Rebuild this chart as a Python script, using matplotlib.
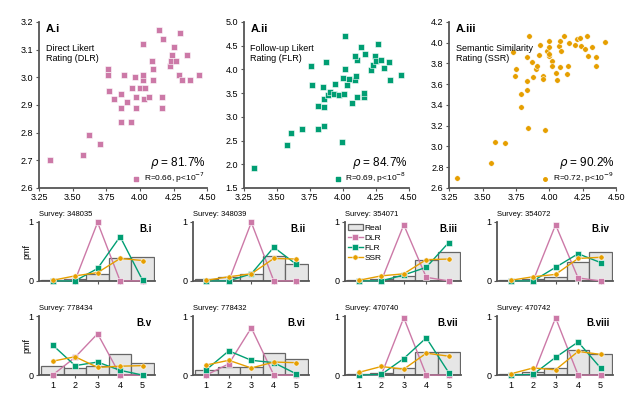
import numpy as np
import matplotlib.pyplot as plt

plt.rcParams['font.family'] = ['Liberation Sans', 'DejaVu Sans']
plt.rcParams['font.size'] = 6.5

pink = '#CC79A7'
green = '#009E73'
orange = '#E69F00'

#%% Scatter data (real mean vs predicted mean)

dlr_x = [3.33, 3.58, 3.62, 3.70, 3.76, 3.76, 3.77, 3.81, 3.86, 3.86, 3.86, 3.88, 3.90, 3.93,
         3.94, 3.96, 3.97, 3.97, 4.00, 4.02, 4.02, 4.02, 4.03, 4.04, 4.07, 4.09, 4.10, 4.10,
         4.14, 4.17, 4.16, 4.16, 4.22, 4.23, 4.24, 4.25, 4.27, 4.29, 4.30, 4.31, 4.35, 4.37, 4.44]
dlr_y = [2.70, 2.72, 2.79, 2.76, 3.03, 3.01, 2.95, 2.92, 2.94, 2.89, 2.84, 3.01, 2.91, 2.84,
         2.96, 3.00, 2.89, 2.93, 2.96, 3.12, 2.99, 3.01, 2.92, 2.96, 2.93, 3.06, 3.03, 2.99,
         3.17, 3.14, 2.93, 2.89, 3.04, 3.06, 3.08, 3.11, 3.06, 3.01, 3.16, 2.99, 3.08, 2.99, 3.01]

flr_x = [3.33, 3.58, 3.61, 3.69, 3.76, 3.77, 3.81, 3.81, 3.85, 3.86, 3.86, 3.86, 3.87, 3.89,
         3.90, 3.93, 3.94, 3.97, 3.99, 4.00, 4.02, 4.01, 4.02, 4.03, 4.05, 4.07, 4.09, 4.10,
         4.11, 4.11, 4.14, 4.16, 4.16, 4.17, 4.21, 4.23, 4.24, 4.25, 4.27, 4.29, 4.31, 4.35,
         4.36, 4.44, 4.09]
flr_y = [1.92, 2.40, 2.66, 2.75, 4.08, 3.68, 2.74, 3.23, 3.63, 3.37, 3.20, 2.80, 4.16, 3.47,
         3.52, 3.48, 3.70, 3.45, 2.47, 3.81, 4.70, 3.49, 4.01, 3.67, 3.79, 3.30, 3.78, 3.85,
         3.42, 4.19, 4.48, 3.42, 3.51, 4.32, 3.98, 4.09, 4.28, 4.18, 4.54, 4.19, 4.02, 4.16,
         3.77, 3.88, 4.28]

ssr_x = [3.31, 3.56, 3.59, 3.67, 3.73, 3.74, 3.75, 3.79, 3.79, 3.83, 3.83, 3.83, 3.84, 3.85,
         3.87, 3.88, 3.90, 3.91, 3.92, 3.93, 3.95, 3.95, 3.97, 3.98, 4.00, 4.00, 4.00, 4.00,
         4.02, 4.02, 4.05, 4.06, 4.07, 4.08, 4.08, 4.09, 4.11, 4.13, 4.14, 4.15, 4.19, 4.21,
         4.23, 4.24, 4.27, 4.28, 4.29, 4.32, 4.35, 4.35, 4.42]
ssr_y = [2.70, 2.84, 3.04, 3.03, 3.91, 3.68, 3.75, 3.38, 3.51, 3.54, 3.63, 3.86, 3.18, 4.06,
         3.81, 3.67, 3.75, 3.78, 3.88, 3.98, 3.68, 3.65, 3.16, 3.92, 4.02, 3.96, 3.87, 3.89,
         3.82, 3.78, 3.71, 3.64, 3.97, 4.02, 3.77, 3.92, 4.06, 3.70, 3.78, 4.00, 3.98, 4.04,
         4.05, 3.97, 3.94, 4.06, 3.87, 3.96, 3.86, 3.78, 4.01]

#%% Distribution data (pmf over ratings 1-5)

ratings = [1, 2, 3, 4, 5]
surveys = ['348035', '348039', '354071', '354072', '778434', '778432', '470740', '470742']
panel_names = ['B.i', 'B.ii', 'B.iii', 'B.iv', 'B.v', 'B.vi', 'B.vii', 'B.viii']

real_pmf = [[0.02, 0.04, 0.11, 0.39, 0.41],
            [0.03, 0.06, 0.12, 0.43, 0.29],
            [0.02, 0.03, 0.09, 0.35, 0.49],
            [0.02, 0.04, 0.07, 0.32, 0.49],
            [0.15, 0.12, 0.16, 0.35, 0.20],
            [0.08, 0.13, 0.14, 0.37, 0.27],
            [0.02, 0.04, 0.12, 0.39, 0.39],
            [0.02, 0.05, 0.12, 0.42, 0.36]]
dlr_pmf = [[0.00, 0.01, 0.99, 0.00, 0.00],
           [0.00, 0.00, 0.99, 0.00, 0.00],
           [0.00, 0.00, 0.95, 0.06, 0.00],
           [0.00, 0.00, 0.95, 0.05, 0.00],
           [0.00, 0.30, 0.70, 0.00, 0.00],
           [0.00, 0.19, 0.80, 0.00, 0.00],
           [0.00, 0.00, 0.97, 0.00, 0.00],
           [0.00, 0.00, 0.97, 0.00, 0.00]]
flr_pmf = [[0.00, 0.00, 0.21, 0.75, 0.01],
           [0.00, 0.00, 0.12, 0.57, 0.28],
           [0.00, 0.00, 0.10, 0.23, 0.65],
           [0.00, 0.00, 0.23, 0.46, 0.31],
           [0.51, 0.16, 0.22, 0.08, 0.00],
           [0.09, 0.41, 0.25, 0.21, 0.02],
           [0.00, 0.01, 0.28, 0.63, 0.04],
           [0.00, 0.01, 0.30, 0.56, 0.12]]
ssr_pmf = [[0.01, 0.085, 0.14, 0.38, 0.345],
           [0.01, 0.07, 0.12, 0.38, 0.37],
           [0.01, 0.085, 0.12, 0.36, 0.37],
           [0.01, 0.07, 0.11, 0.38, 0.40],
           [0.235, 0.31, 0.13, 0.15, 0.16],
           [0.17, 0.25, 0.12, 0.22, 0.21],
           [0.045, 0.145, 0.10, 0.37, 0.32],
           [0.02, 0.12, 0.09, 0.40, 0.35]]

#%% Figure

fig = plt.figure(figsize=(6.3, 3.99), dpi=100)
spine_col = '#555555'


def style_axes(ax):
    for s in ['top', 'right']:
        ax.spines[s].set_visible(False)
    for s in ['left', 'bottom']:
        ax.spines[s].set_color(spine_col)
        ax.spines[s].set_linewidth(1.3)
    ax.tick_params(length=2.5, width=0.8, color=spine_col, pad=1.5, labelsize=6.5)


top_specs = [
    ([0.062, 0.529, 0.267, 0.416], dlr_x, dlr_y, pink, 's', (2.6, 3.2), np.arange(2.6, 3.21, 0.1),
     'A.i', 'Direct Likert\nRating (DLR)', r'$\rho$ = 81.7%', r'R=0.66, p<10$^{-7}$'),
    ([0.387, 0.529, 0.262, 0.416], flr_x, flr_y, green, 's', (1.5, 5.0), np.arange(1.5, 5.01, 0.5),
     'A.ii', 'Follow-up Likert\nRating (FLR)', r'$\rho$ = 84.7%', r'R=0.69, p<10$^{-8}$'),
    ([0.713, 0.529, 0.265, 0.416], ssr_x, ssr_y, orange, 'o', (2.6, 4.2), np.arange(2.6, 4.21, 0.2),
     'A.iii', 'Semantic Similarity\nRating (SSR)', r'$\rho$ = 90.2%', r'R=0.72, p<10$^{-9}$'),
]

for pos, xs, ys, col, mk, ylim, yt, name, desc, rho, rtxt in top_specs:
    ax = fig.add_axes(pos)
    ax.scatter(xs, ys, s=16, marker=mk, color=col, edgecolors='white', linewidths=0.4, zorder=3)
    ax.set_xlim(3.25, 4.5)
    ax.set_ylim(*ylim)
    ax.set_xticks([3.25, 3.5, 3.75, 4.0, 4.25, 4.5])
    ax.set_xticklabels(['3.25', '3.50', '3.75', '4.00', '4.25', '4.50'])
    ax.set_yticks(yt)
    ax.set_yticklabels(['%.1f' % v for v in yt])
    style_axes(ax)
    ax.text(0.04, 0.985, name, transform=ax.transAxes, fontsize=8, fontweight='bold', va='top')
    ax.text(0.04, 0.87, desc, transform=ax.transAxes, fontsize=6.5, va='top', linespacing=1.2)
    ax.text(0.99, 0.10, rho, transform=ax.transAxes, fontsize=8.5, ha='right', va='bottom')
    ax.scatter([], [], s=10, marker=mk, color=col, label=rtxt)
    ax.legend(loc='lower right', frameon=False, fontsize=6, handletextpad=0.4,
              borderaxespad=0.1, borderpad=0.2, handlelength=1.0, markerscale=0.8)

b_lefts = [0.062, 0.306, 0.548, 0.789]
b_width = 0.184
b_bottoms = [0.296, 0.060]
b_height = 0.148

for i in range(8):
    row, col = divmod(i, 4)
    ax = fig.add_axes([b_lefts[col], b_bottoms[row], b_width, b_height])
    bars = ax.bar(ratings, real_pmf[i], width=1.0, color='#e6e6e6', edgecolor='#666666',
                  linewidth=0.9, zorder=1, label='Real')
    l1, = ax.plot(ratings, dlr_pmf[i], '-s', color=pink, ms=3.8, lw=1.0, mec='white', mew=0.4,
                  clip_on=False, zorder=3, label='DLR')
    l2, = ax.plot(ratings, flr_pmf[i], '-s', color=green, ms=3.8, lw=1.0, mec='white', mew=0.4,
                  clip_on=False, zorder=4, label='FLR')
    l3, = ax.plot(ratings, ssr_pmf[i], '-o', color=orange, ms=3.8, lw=1.0, mec='white', mew=0.4,
                  clip_on=False, zorder=5, label='SSR')
    ax.set_xlim(0.4, 5.55)
    ax.set_ylim(0, 1)
    ax.set_yticks([0, 1])
    ax.set_yticklabels(['0', '1'])
    ax.set_xticks(ratings)
    if row == 0:
        ax.set_xticklabels([])
    style_axes(ax)
    ax.text(0.0, 1.06, 'Survey: ' + surveys[i], transform=ax.transAxes, fontsize=5.5, va='bottom')
    ax.text(0.97, 0.97, panel_names[i], transform=ax.transAxes, fontsize=7, fontweight='bold',
            ha='right', va='top')
    if col == 0:
        ax.set_ylabel('pmf', fontsize=6.5, labelpad=-2)
    if i == 2:
        ax.legend([bars, l1, l2, l3], ['Real', 'DLR', 'FLR', 'SSR'], loc='upper left',
                  frameon=False, fontsize=6, handlelength=1.8, handletextpad=0.2,
                  labelspacing=0.25, borderaxespad=0.1, borderpad=0.2)

fig.savefig('out.png', dpi=100)
